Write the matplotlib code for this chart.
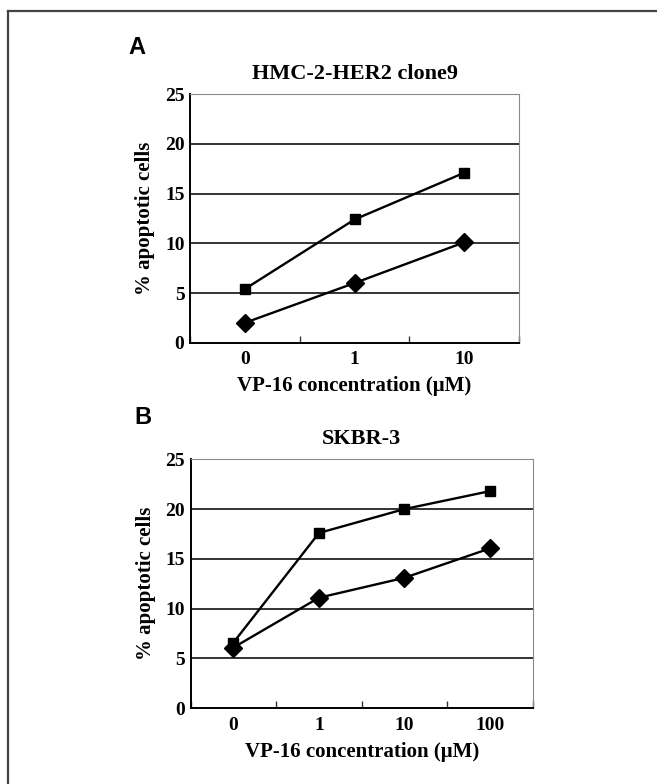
import matplotlib.pyplot as plt
import numpy as np
from matplotlib.lines import Line2D

# panel A: HMC-2-HER2 clone9
conc_a = ['0', '1', '10']
square_a = [5.4, 12.4, 17.1]
diamond_a = [2.0, 6.0, 10.1]

# panel B: SKBR-3
conc_b = ['0', '1', '10', '100']
square_b = [6.6, 17.6, 20.0, 21.8]
diamond_b = [6.1, 11.1, 13.1, 16.05]

yticks = [0, 5, 10, 15, 20, 25]

serif = 'Liberation Serif'
sans = 'Liberation Sans'


def draw_panel(ax, cats, sq, dm, title):
    x = np.arange(len(cats))
    ax.plot(x, sq, color='black', lw=1.7, marker='s', ms=7, zorder=3)
    ax.plot(x, dm, color='black', lw=1.7, marker='D', ms=9.5, zorder=3)

    ax.set_xlim(-0.5, len(cats) - 0.5)
    ax.set_ylim(0, 25)
    ax.set_yticks(yticks)
    for v in yticks[1:-1]:
        ax.axhline(v, color='#111111', lw=1.2, zorder=1)

    ax.set_xticks(x)
    ax.set_xticklabels(cats)
    ax.set_xticks(np.arange(len(cats) + 1) - 0.5, minor=True)
    ax.tick_params(axis='x', which='major', length=0, pad=6)
    ax.tick_params(axis='x', which='minor', direction='in', length=5, width=1, color='#333333')
    ax.tick_params(axis='y', length=0, pad=4)
    for lab in ax.get_xticklabels() + ax.get_yticklabels():
        lab.set_family(serif)
        lab.set_fontweight('bold')
        lab.set_fontsize(14)

    ax.spines['left'].set_color('black')
    ax.spines['left'].set_linewidth(1.4)
    ax.spines['bottom'].set_color('black')
    ax.spines['bottom'].set_linewidth(1.4)
    ax.spines['top'].set_color('#8a8a8a')
    ax.spines['right'].set_color('#8a8a8a')

    ax.set_title(title, family=serif, fontweight='bold', fontsize=16, pad=11)
    ax.set_xlabel('VP-16 concentration (\u03bcM)', family=serif, fontweight='bold',
                  fontsize=15, labelpad=6)
    ax.set_ylabel('% apoptotic cells', family=serif, fontweight='bold',
                  fontsize=15, labelpad=7)


fig = plt.figure(figsize=(6.57, 7.84), dpi=100)

ax1 = fig.add_axes([0.2892, 0.5629, 0.5008, 0.3168])
draw_panel(ax1, conc_a, square_a, diamond_a, 'HMC-2-HER2 clone9')

ax2 = fig.add_axes([0.2903, 0.0966, 0.5205, 0.3176])
draw_panel(ax2, conc_b, square_b, diamond_b, 'SKBR-3')

fig.text(137 / 657, 1 - 48 / 784, 'A', family=sans, fontweight='bold', fontsize=17,
         ha='center', va='center')
fig.text(143 / 657, 1 - 418 / 784, 'B', family=sans, fontweight='bold', fontsize=17,
         ha='center', va='center')

# frame lines at top and left of the figure
fig.add_artist(Line2D([8 / 657, 1], [1 - 11 / 784, 1 - 11 / 784], color='#444444', lw=1.6))
fig.add_artist(Line2D([8 / 657, 8 / 657], [0, 1 - 11 / 784], color='#444444', lw=1.6))

fig.savefig('out.png', dpi=100)
